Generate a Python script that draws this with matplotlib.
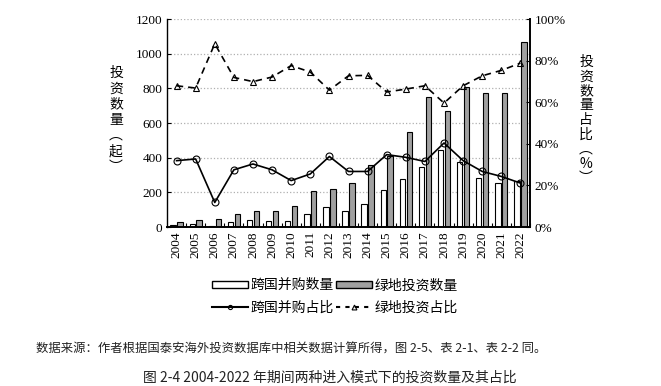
import matplotlib
matplotlib.use('Agg')
import matplotlib.pyplot as plt
import numpy as np
from matplotlib.patches import Patch
from matplotlib.lines import Line2D

plt.rcParams['font.family'] = ['Liberation Serif', 'Noto Sans CJK SC', 'DejaVu Sans']
cjk = ['Noto Sans CJK SC', 'DejaVu Sans']

years = [str(y) for y in range(2004, 2023)]
# counts
ma_count = [12, 20, 5, 28, 40, 35, 35, 73, 113, 94, 132, 215, 275, 345, 446, 377, 283, 254, 265]
gf_count = [30, 40, 46, 73, 92, 92, 120, 206, 222, 253, 355, 407, 546, 748, 667, 808, 771, 771, 1069]
# shares (%)
ma_share = [31.9, 32.7, 11.8, 27.5, 30.3, 27.5, 22.3, 25.5, 33.9, 26.7, 26.7, 34.8,
            33.5, 31.5, 40.4, 31.9, 26.7, 24.3, 21.1]
gf_share = [67.9, 66.8, 88.1, 71.9, 69.9, 72.1, 77.6, 74.5, 65.8, 72.7, 72.9, 64.9,
            66.3, 67.9, 59.6, 67.9, 72.7, 75.3, 78.8]

fig = plt.figure(figsize=(6.61, 3.86), dpi=100)
ax = fig.add_axes([167/661, 1 - 227/386, 363/661, 208/386])
x = np.arange(len(years))
w = 0.28
ax.bar(x - 0.18, ma_count, w, color='white', edgecolor='black', linewidth=0.8, zorder=2)
ax.bar(x + 0.18, gf_count, w, color='#a0a0a0', edgecolor='black', linewidth=0.8, zorder=2)
ax.set_xlim(-0.5, len(years) - 0.5)
ax.set_ylim(0, 1200)
ax.set_yticks(range(0, 1201, 200))
ax.set_xticks(x)
ax.set_xticklabels(years, rotation=90, fontsize=9.5)
ax.set_xticks(x + 0.5, minor=True)
ax.tick_params(axis='x', which='major', length=0, pad=3)
ax.tick_params(axis='x', which='minor', direction='in', length=3, width=0.8)
ax.tick_params(axis='y', direction='in', length=3, labelsize=9.5)
ax.grid(axis='y', color='#b0b0b0', linestyle=':', linewidth=0.9, zorder=0)
ax.spines['top'].set_visible(False)
ax.spines['bottom'].set_linewidth(1.4)
ax.spines['left'].set_linewidth(1.0)
ax.spines['right'].set_visible(False)

ax2 = ax.twinx()
ax2.plot(x, ma_share, color='black', linewidth=1.2, marker='o', markersize=5,
         markerfacecolor='none', markeredgecolor='black', markeredgewidth=0.8, zorder=4)
ax2.plot(x, gf_share, color='black', linewidth=1.2, linestyle=(0, (4, 3)), marker='^', markersize=5,
         markerfacecolor='none', markeredgecolor='black', markeredgewidth=0.8, zorder=4)
ax2.set_ylim(0, 100)
ax2.set_yticks(range(0, 101, 20))
ax2.set_yticklabels([f'{v}%' for v in range(0, 101, 20)])
ax2.tick_params(axis='y', direction='in', length=3, labelsize=9.5)
ax2.spines['top'].set_visible(False)
ax2.spines['right'].set_linewidth(1.4)
ax2.spines['left'].set_visible(False)
ax2.spines['bottom'].set_visible(False)

fig.text(116/661, 1 - 120/386, '投\n资\n数\n量\n︵\n起\n︶', family=cjk, fontsize=10,
         ha='center', va='center', linespacing=1.15)
fig.text(586/661, 1 - 120/386, '投\n资\n数\n量\n占\n比\n︵\n%\n︶', family=cjk, fontsize=10,
         ha='center', va='center', linespacing=1.05)

handles = [Patch(facecolor='white', edgecolor='black', linewidth=1.0),
           Line2D([], [], color='black', linewidth=1.5, marker='o', markersize=3,
                  markerfacecolor='none', markeredgewidth=0.8),
           Patch(facecolor='#a0a0a0', edgecolor='black', linewidth=1.0),
           Line2D([], [], color='black', linewidth=1.5, linestyle=(0, (2, 2.5)), marker='^', markersize=3.5,
                  markerfacecolor='none', markeredgewidth=0.8)]
labels = ['跨国并购数量', '跨国并购占比', '绿地投资数量', '绿地投资占比']
fig.legend(handles, labels, loc='center', bbox_to_anchor=(335/661, 1 - 296.5/386), ncol=2,
           frameon=False, prop={'family': cjk, 'size': 10}, handlelength=2.6, handleheight=0.4,
           columnspacing=0.2, handletextpad=0.15, labelspacing=0.6, borderpad=0)

fig.text(36/661, 1 - 349/386, '数据来源：作者根据国泰安海外投资数据库中相关数据计算所得，图 2-5、表 2-1、表 2-2 同。',
         family=cjk, fontsize=8.9, ha='left', va='center', color='#222222')
fig.text(330/661, 1 - 378/386, '图 2-4 2004-2022 年期间两种进入模式下的投资数量及其占比',
         family=cjk, fontsize=10, ha='center', va='center', color='#222222')

fig.savefig('out.png', dpi=100)
